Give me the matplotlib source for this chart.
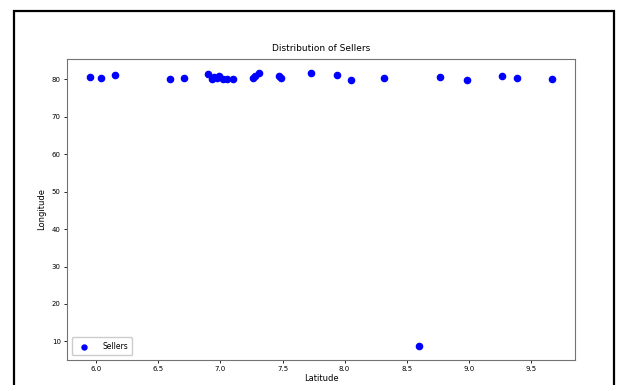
import numpy as np
import matplotlib
matplotlib.use('Agg')
import matplotlib.pyplot as plt
import matplotlib.patches as mpatches

# seller locations (x = latitude, y = longitude)
lat = [5.95, 6.04, 6.15, 6.59, 6.71, 6.90, 6.93, 6.95, 6.97, 6.99, 7.02, 7.05,
       7.10, 7.26, 7.28, 7.31, 7.47, 7.49, 7.73, 7.94, 8.05, 8.32, 8.60, 8.77,
       8.99, 9.27, 9.39, 9.67]
lon = [80.53, 80.27, 81.2, 80.0, 80.44, 81.5, 80.0, 80.6, 80.4, 81.0, 80.2, 80.0,
       80.2, 80.44, 80.9, 81.7, 80.8, 80.35, 81.8, 81.06, 79.9, 80.35, 8.67, 80.6,
       79.9, 80.9, 80.44, 80.1]
series_name = 'Sellers'

W, H = 619, 385
fig = plt.figure(figsize=(W/100., H/100.), dpi=100)
ax = fig.add_axes([67./W, 1-360./H, (575-67.)/W, (360-59.)/H])

ax.scatter(lat, lon, s=20, color='blue', label=series_name)
ax.set_title('Distribution of Sellers', fontsize=6.5, pad=6)
ax.set_xlabel('Latitude', fontsize=6, labelpad=1.5)
ax.set_ylabel('Longitude', fontsize=6, labelpad=4)
ax.set_xticks(np.arange(6.0, 9.6, 0.5))
ax.set_yticks(np.arange(10, 81, 10))
ax.tick_params(labelsize=5, length=2.5, width=0.6, pad=2)
for sp in ax.spines.values():
    sp.set_color('0.45')
    sp.set_linewidth(0.8)
ax.legend(loc='lower left', fontsize=5.5, markerscale=0.8, handletextpad=1.4,
          borderpad=0.6, borderaxespad=0.6, framealpha=1)

# black frame around the figure (bottom edge is cut off)
frame = mpatches.Rectangle((14./W, -0.2), 600./W, 1.2 - 11./H,
                           transform=fig.transFigure, fill=False,
                           edgecolor='black', linewidth=1.6, clip_on=False)
fig.add_artist(frame)

fig.savefig('out.png', dpi=100)
